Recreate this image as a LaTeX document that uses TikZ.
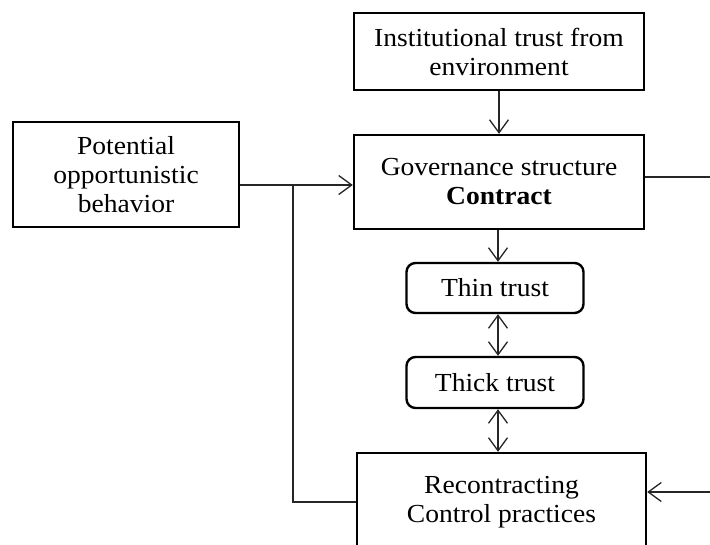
\documentclass[tikz,border=0pt]{standalone}
\usepackage{fontspec}
\setmainfont{Liberation Serif}[FakeStretch=1.06]
\usetikzlibrary{arrows.meta}
\begin{document}
\begin{tikzpicture}[x=1pt,y=-1pt,
  box/.style={draw=black, line width=2.4pt, align=center, inner sep=0pt,
    font=\fontsize{26}{29}\selectfont},
  rbox/.style={box, rounded corners=9pt},
  conn/.style={draw=black!85, line width=1.2pt},
  tip/.style={Straight Barb[length=13pt,width=19pt,line width=1.3pt]},
  arr/.style={conn, -{Straight Barb[length=13pt,width=19pt,line width=1.3pt]}},
  darr/.style={conn, {Straight Barb[length=13pt,width=19pt,line width=1.3pt]}-{Straight Barb[length=13pt,width=19pt,line width=1.3pt]}}
]
\useasboundingbox (0,0) rectangle (710,544);
\clip (0,0) rectangle (710,544);
\fill[white] (0,0) rectangle (710,544);

\node[box, minimum width=290pt, minimum height=77pt] (inst) at (499,51.5)
  {Institutional trust from\\environment};
\node[box, minimum width=290pt, minimum height=94pt] (gov) at (499,182)
  {Governance structure\\\textbf{Contract}};
\node[box, minimum width=226pt, minimum height=105pt] (pot) at (126,174.5)
  {Potential\\opportunistic\\behavior};
\node[rbox, minimum width=177pt, minimum height=50pt] (thin) at (495,288)
  {Thin trust};
\node[rbox, minimum width=177pt, minimum height=51pt] (thick) at (495,382.5)
  {Thick trust};
\node[box, minimum width=289pt, minimum height=98pt] (rec) at (501.5,502)
  {Recontracting\\Control practices};

\coordinate (col) at (498,0);
\coordinate (potout) at (239,185);
\coordinate (junc) at (293,185);
\coordinate (gout) at (715,177);
\coordinate (rin) at (715,492);

\draw[arr] (inst.south) -- (gov.north);
\draw[arr] (potout -| pot.east) -- (potout -| gov.west);
\draw[conn] (junc) |- (rec.west);
\draw[conn] (gout -| gov.east) -- (gout);
\draw[arr] (rin) -- (rin -| rec.east);
\draw[arr] (col |- gov.south) -- (col |- thin.north);
\draw[darr] (col |- thin.south) -- (col |- thick.north);
\draw[darr] (col |- thick.south) -- (col |- rec.north);
\end{tikzpicture}
\end{document}
